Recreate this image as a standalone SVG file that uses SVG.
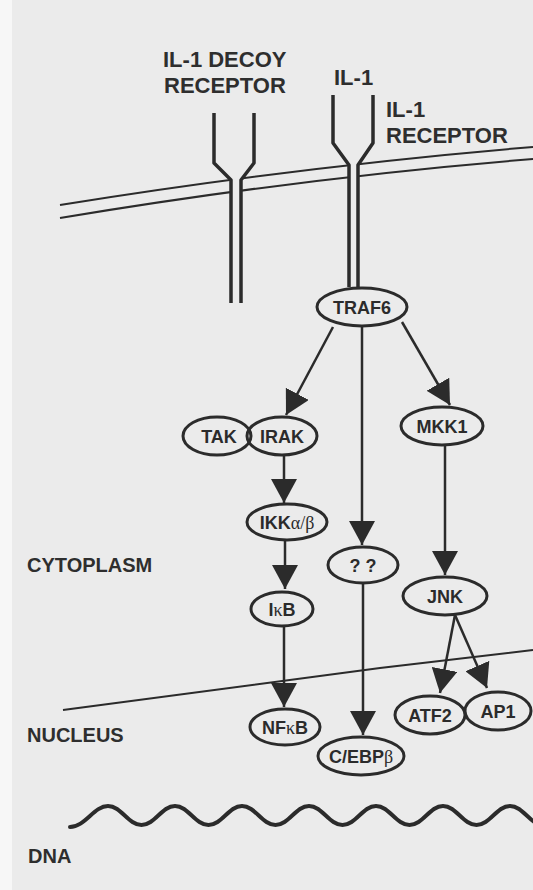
<svg xmlns="http://www.w3.org/2000/svg" width="533" height="890" viewBox="0 0 533 890">
  <defs>
    <style>
      .bg { fill: #ebebeb; }
      .label { font-family: "Liberation Sans", Arial, sans-serif; font-weight: bold; font-size: 22px; fill: #2e2e2e; }
      .region { font-family: "Liberation Sans", Arial, sans-serif; font-weight: bold; font-size: 20px; fill: #2e2e2e; }
      .node ellipse { fill: none; stroke: #2b2b2b; stroke-width: 3; }
      .node text { font-family: "Liberation Sans", Arial, sans-serif; font-weight: bold; font-size: 18px; fill: #2b2b2b; text-anchor: middle; }
      .greek { font-family: "Liberation Serif", "DejaVu Serif", serif; font-weight: normal; }
      .membrane { fill: none; stroke: #2b2b2b; stroke-width: 2; }
      .receptor { fill: none; stroke: #2b2b2b; stroke-width: 3.5; stroke-linejoin: round; }
      .gap { fill: #ebebeb; stroke: none; }
      .edge { fill: none; stroke: #2b2b2b; stroke-width: 2.5; marker-end: url(#arrow); }
      .dna { fill: none; stroke: #2b2b2b; stroke-width: 4; stroke-linecap: round; }
    </style>
    <marker id="arrow" markerUnits="userSpaceOnUse" viewBox="0 0 24 26" markerWidth="24" markerHeight="26" refX="24" refY="13" orient="auto">
      <path d="M0,0 L24,13 L0,26 Z" fill="#2b2b2b"/>
    </marker>
  </defs>

  <!-- page -->
  <rect class="bg" x="0" y="0" width="533" height="890"/>
  <rect x="0" y="0" width="12" height="890" fill="#f7f7f7"/>

  <!-- cell membrane (double line) -->
  <g id="cell-membrane">
    <path class="membrane" d="M60,205 Q303,166 533,147"/>
    <path class="membrane" d="M60,218 Q303,177.5 533,159"/>
  </g>

  <!-- nuclear envelope -->
  <path id="nuclear-envelope" class="membrane" d="M63,710 L380,668 L533,650"/>

  <!-- DNA strand -->
  <path id="dna-strand" class="dna" d="M70,827 C85,827 94,806 108,806 C121.4,806 128.1,825 141.5,825 C154.9,825 161.6,806 175,806 C188.4,806 195.1,825 208.5,825 C221.9,825 228.6,806 242,806 C255.4,806 262.1,825 275.5,825 C288.9,825 295.6,806 309,806 C322.4,806 329.1,825 342.5,825 C355.9,825 362.6,806 376,806 C389.4,806 396.1,825 409.5,825 C422.9,825 429.6,806 443,806 C456.4,806 463.1,825 476.5,825 C489.9,825 496.6,806 510,806 C523.4,806 530.1,825 543.5,825"/>

  <!-- IL-1 decoy receptor -->
  <g id="decoy-receptor">
    <path class="gap" d="M214,113 V163 L231,180 V303 H241 V180 L254,163 V113 Z"/>
    <path class="receptor" d="M214,113 V163 L231,180 V303"/>
    <path class="receptor" d="M254,113 V163 L241,180 V303"/>
    <text class="label" x="163" y="67">IL-1 DECOY</text>
    <text class="label" x="164" y="93">RECEPTOR</text>
  </g>

  <!-- IL-1 receptor with bound IL-1 -->
  <g id="il1-receptor">
    <path class="gap" d="M333,95 V143 L349,165 V287 H358 V165 L373,143 V95 Z"/>
    <path class="receptor" d="M333,95 V143 L349,165 V287"/>
    <path class="receptor" d="M373,95 V143 L358,165 V287"/>
    <text class="label" x="334" y="85">IL-1</text>
    <text class="label" x="386" y="117">IL-1</text>
    <text class="label" x="386" y="143">RECEPTOR</text>
  </g>

  <!-- compartment labels -->
  <text id="label-cytoplasm" class="region" x="27" y="572">CYTOPLASM</text>
  <text id="label-nucleus" class="region" x="27" y="742">NUCLEUS</text>
  <text id="label-dna" class="region" x="28" y="863">DNA</text>

  <!-- signalling connectors -->
  <g id="connectors">
    <line class="edge" x1="333" y1="327" x2="286" y2="415"/>
    <line class="edge" x1="362" y1="326" x2="362" y2="545"/>
    <line class="edge" x1="402" y1="322" x2="450" y2="405"/>
    <line class="edge" x1="284" y1="455" x2="284" y2="503"/>
    <line class="edge" x1="285" y1="540" x2="285" y2="589"/>
    <line class="edge" x1="284" y1="626" x2="284" y2="707"/>
    <line class="edge" x1="363" y1="583" x2="363" y2="735"/>
    <line class="edge" x1="445" y1="445" x2="445" y2="575"/>
    <line class="edge" x1="455" y1="615" x2="440" y2="693"/>
    <line class="edge" x1="455" y1="615" x2="487" y2="688"/>
  </g>

  <!-- signalling proteins -->
  <g id="traf6" class="node">
    <ellipse cx="362" cy="307" rx="45" ry="19"/>
    <text x="362" y="313.5">TRAF6</text>
  </g>
  <g id="tak" class="node">
    <ellipse cx="217" cy="436" rx="34" ry="19"/>
    <text x="219" y="442.5">TAK</text>
  </g>
  <g id="irak" class="node">
    <ellipse cx="282" cy="436" rx="35" ry="19"/>
    <text x="282" y="442.5">IRAK</text>
  </g>
  <g id="mkk1" class="node">
    <ellipse cx="442" cy="426" rx="41" ry="19"/>
    <text x="442" y="432.5">MKK1</text>
  </g>
  <g id="ikk" class="node">
    <ellipse cx="287" cy="522" rx="40" ry="18"/>
    <text x="287" y="528.5">IKK<tspan class="greek">α/β</tspan></text>
  </g>
  <g id="unknown" class="node">
    <ellipse cx="363" cy="565" rx="35" ry="18"/>
    <text x="363" y="571.5">? ?</text>
  </g>
  <g id="ikb" class="node">
    <ellipse cx="282" cy="609" rx="31" ry="17"/>
    <text x="282" y="615.5">I<tspan class="greek">κ</tspan>B</text>
  </g>
  <g id="jnk" class="node">
    <ellipse cx="445" cy="596" rx="42" ry="19"/>
    <text x="445" y="602.5">JNK</text>
  </g>
  <g id="nfkb" class="node">
    <ellipse cx="285" cy="727" rx="35" ry="18"/>
    <text x="285" y="733.5">NF<tspan class="greek">κ</tspan>B</text>
  </g>
  <g id="cebpb" class="node">
    <ellipse cx="361" cy="756" rx="43" ry="19"/>
    <text x="361" y="762.5">C/EBP<tspan class="greek">β</tspan></text>
  </g>
  <g id="atf2" class="node">
    <ellipse cx="430" cy="715" rx="35" ry="19"/>
    <text x="430" y="721.5">ATF2</text>
  </g>
  <g id="ap1" class="node">
    <ellipse cx="498" cy="711" rx="33" ry="19"/>
    <text x="498" y="717.5">AP1</text>
  </g>
</svg>
